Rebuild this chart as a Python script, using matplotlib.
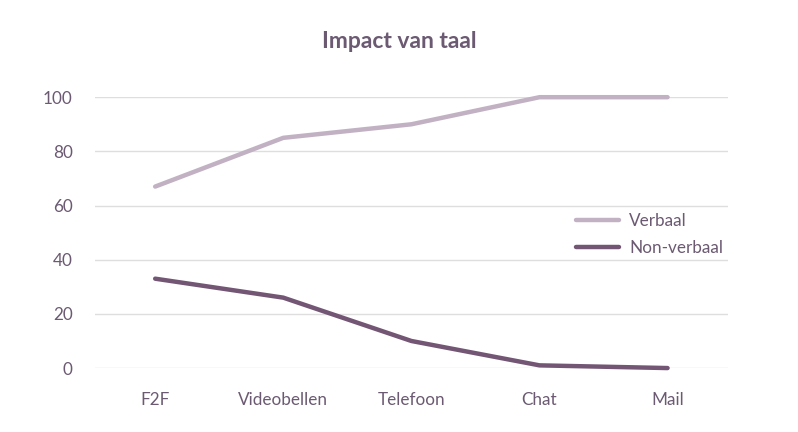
import matplotlib
matplotlib.use("Agg")
import matplotlib.pyplot as plt

categories = ["F2F", "Videobellen", "Telefoon", "Chat", "Mail"]
verbaal = [67, 85, 90, 100, 100]
non_verbaal = [33, 26, 10, 1, 0]
yticks = [0, 20, 40, 60, 80, 100]

plt.rcParams['font.family'] = ['Lato', 'DejaVu Sans']
text_color = "#6b5a72"

fig = plt.figure(figsize=(7.98, 4.32), dpi=100)
ax = fig.add_axes([0.119, 0.148, 0.793, 0.627])

x = list(range(len(categories)))
ax.plot(x, verbaal, color="#c1b1c3", lw=3.2, solid_capstyle="round", label="Verbaal", clip_on=False, zorder=3)
ax.plot(x, non_verbaal, color="#735574", lw=3.2, solid_capstyle="round", label="Non-verbaal", clip_on=False, zorder=3)

ax.set_xlim(-0.47, 4.47)
ax.set_ylim(0, 100)
ax.set_yticks(yticks)
ax.set_xticks(x)
ax.set_xticklabels(categories)
ax.tick_params(axis="both", length=0, labelsize=12.3, colors=text_color)
ax.tick_params(axis="y", pad=16)
ax.tick_params(axis="x", pad=17)
ax.grid(axis="y", color="#dedede", lw=1)
ax.set_axisbelow(True)
for s in ax.spines.values():
    s.set_visible(False)

fig.text(0.5, 0.905, "Impact van taal", ha="center", va="center", fontsize=16.5,
         fontweight="bold", color=text_color)

leg = ax.legend(loc="center left", bbox_to_anchor=(0.703, 0.457), bbox_transform=fig.transFigure,
                frameon=False, fontsize=12.3, handlelength=2.5, handletextpad=0.6, labelspacing=0.65)
for t in leg.get_texts():
    t.set_color(text_color)

fig.savefig("out.png", dpi=100)
